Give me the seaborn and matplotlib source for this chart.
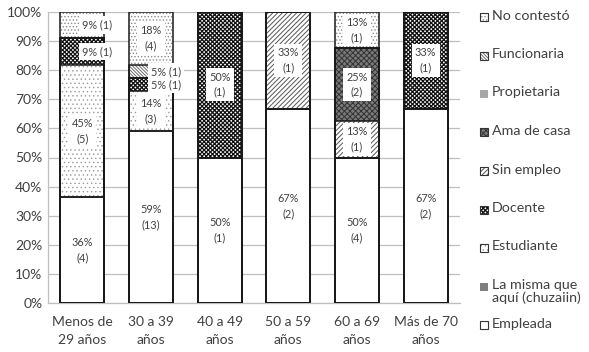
import matplotlib
matplotlib.use("Agg")
import matplotlib.pyplot as plt
import seaborn as sns
import numpy as np
from matplotlib.patches import Rectangle

# ---------------- data ----------------
categories = ["Menos de\n29 años", "30 a 39\naños", "40 a 49\naños",
              "50 a 59\naños", "60 a 69\naños", "Más de 70\naños"]
series_names = ["Empleada", "La misma que\naquí (chuzaiin)", "Estudiante", "Docente",
                "Sin empleo", "Ama de casa", "Propietaria", "Funcionaria", "No contestó"]
empleada    = [4, 13, 1, 2, 4, 2]
la_misma    = [0, 0, 0, 0, 0, 0]
estudiante  = [5, 3, 0, 0, 0, 0]
docente     = [1, 1, 1, 0, 0, 1]
sin_empleo  = [0, 0, 0, 1, 1, 0]
ama_de_casa = [0, 0, 0, 0, 2, 0]
propietaria = [0, 0, 0, 0, 0, 0]
funcionaria = [0, 1, 0, 0, 0, 0]
no_contesto = [1, 4, 0, 0, 1, 0]
y_ticks = [0, 10, 20, 30, 40, 50, 60, 70, 80, 90, 100]

counts = np.array([empleada, la_misma, estudiante, docente, sin_empleo,
                   ama_de_casa, propietaria, funcionaria, no_contesto], dtype=float)
totals = counts.sum(axis=0)
pcts = counts / totals * 100
cums = np.cumsum(pcts, axis=0)

# ---------------- styles ----------------
# (facecolor, hatch, hatchcolor, hatch linewidth)
styles = {
    "Empleada": ("white", None, "white", 1.0),
    "La misma que\naquí (chuzaiin)": ("#7f7f7f", None, "#7f7f7f", 1.0),
    "Estudiante": ("white", "." * 4, "#9a9a9a", 0.5),
    "Docente": ("white", "x" * 8, "#111111", 0.9),
    "Sin empleo": ("white", "/" * 7, "#555555", 0.7),
    "Ama de casa": ("#7a7a7a", "x" * 6, "#333333", 0.7),
    "Propietaria": ("#a6a6a6", None, "#a6a6a6", 1.0),
    "Funcionaria": ("white", "\\" * 10, "#707070", 0.7),
    "No contestó": ("white", "." * 5, "#8a8a8a", 0.6),
}

sns.set_theme(style="white")
plt.rcParams["font.family"] = ["Lato", "DejaVu Sans"]
text_color = "#404040"

fig = plt.figure(figsize=(5.89, 3.52), dpi=100)
W, H = 589, 352
ax = fig.add_axes([48 / W, 1 - 303 / H, (460 - 48) / W, (303 - 12) / H])

bw = 0.64
# fill pass: draw cumulative bars from top series downwards
for i in reversed(range(len(series_names))):
    name = series_names[i]
    face, hatch, hcol, hlw = styles[name]
    with plt.rc_context({"hatch.linewidth": hlw}):
        sns.barplot(x=categories, y=cums[i], order=categories, color=face, saturation=1,
                    width=bw, hatch=hatch, edgecolor=hcol, linewidth=0, ax=ax, zorder=2)
# outline pass
for i in reversed(range(len(series_names))):
    sns.barplot(x=categories, y=cums[i], order=categories, color="white", saturation=1,
                width=bw, facecolor="none", edgecolor="#1a1a1a", linewidth=1.1,
                ax=ax, zorder=3)

# labels
for i in range(len(series_names)):
    for j in range(len(categories)):
        c = counts[i, j]
        if c <= 0:
            continue
        p = pcts[i, j]
        y = cums[i, j] - p / 2
        ptxt = f"{int(p + 0.5)}%"
        if p < 10:
            txt = f"{ptxt} ({int(c)})"
            x = j + 0.22
        else:
            txt = f"{ptxt}\n({int(c)})"
            x = j
        ax.text(x, y, txt, ha="center", va="center", fontsize=7.8, color=text_color,
                linespacing=1.45, zorder=5,
                bbox=dict(boxstyle="square,pad=0.3", facecolor="white", edgecolor="none"))

ax.set_ylim(0, 100)
ax.set_xlim(-0.5, len(categories) - 0.5)
ax.set_yticks(y_ticks)
ax.set_yticklabels([f"{v}%" for v in y_ticks])
ax.set_xlabel("")
ax.set_ylabel("")
ax.yaxis.grid(True, color="#bfbfbf", linewidth=0.9, zorder=0)
ax.xaxis.grid(False)
ax.set_axisbelow(True)
for s in ["top", "right"]:
    ax.spines[s].set_visible(False)
for s in ["left", "bottom"]:
    ax.spines[s].set_color("#bfbfbf")
    ax.spines[s].set_linewidth(0.9)
ax.tick_params(axis="both", length=0, labelsize=10, colors=text_color)
ax.tick_params(axis="y", pad=4)
ax.tick_params(axis="x", pad=9)
for lab in ax.get_xticklabels():
    lab.set_linespacing(1.6)

# manual legend (top to bottom = reversed stacking order)
for k, name in enumerate(reversed(series_names)):
    face, hatch, hcol, hlw = styles[name]
    yc = 17 + 38.5 * k
    sx, sy, ss = 480, yc - 4, 8
    fx, fy = sx / W, 1 - (sy + ss) / H
    fw, fh = ss / W, ss / H
    with plt.rc_context({"hatch.linewidth": hlw}):
        fig.add_artist(Rectangle((fx, fy), fw, fh, transform=fig.transFigure,
                                 facecolor=face, hatch=hatch, edgecolor=hcol, linewidth=0))
    if name not in ("Propietaria", "La misma que\naquí (chuzaiin)"):
        fig.add_artist(Rectangle((fx, fy), fw, fh, transform=fig.transFigure,
                                 facecolor="none", edgecolor="#333333", linewidth=0.8))
    fig.text(492 / W, 1 - (yc - 7.5) / H, name, ha="left", va="top", fontsize=10.3,
             color=text_color, linespacing=1.05)

fig.savefig("out.png", dpi=100)
